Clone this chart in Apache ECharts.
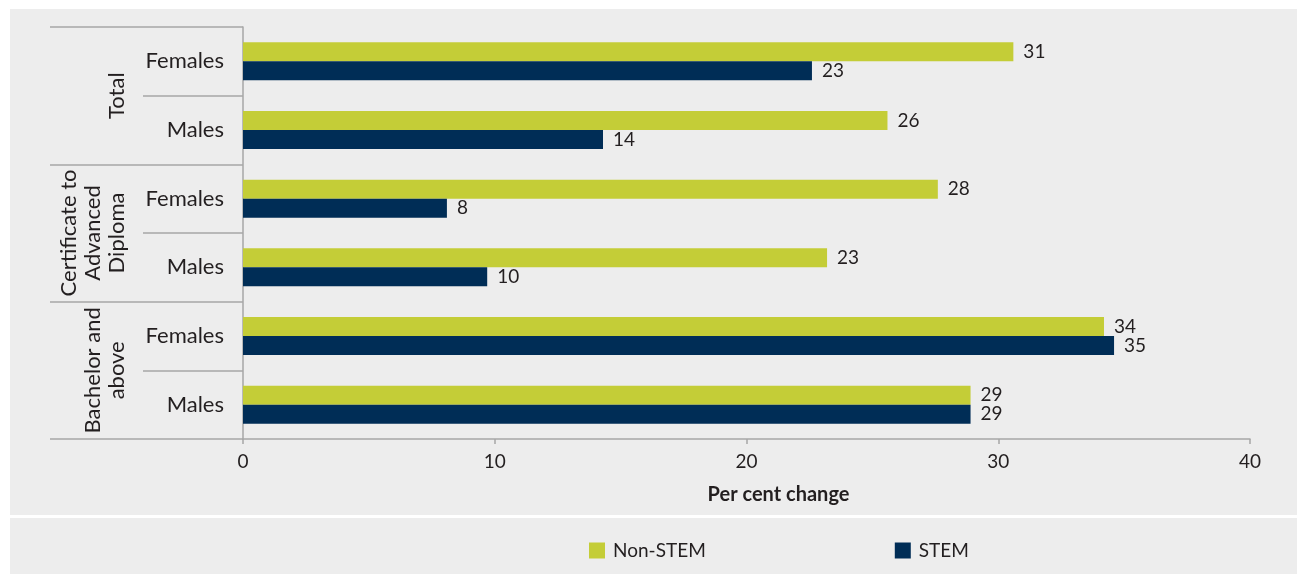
<!DOCTYPE html>
<html>
<head>
<meta charset="utf-8">
<script src="https://cdn.jsdelivr.net/npm/echarts@6/dist/echarts.min.js"></script>
<style>
html,body{margin:0;padding:0;background:#ffffff;}
#chart{width:1297px;height:574px;}
</style>
</head>
<body>
<div id="chart"></div>
<script>
// ---- data ----
var groups = ['Total', 'Certificate to\nAdvanced\nDiploma', 'Bachelor and\nabove'];
var subCategories = ['Females', 'Males', 'Females', 'Males', 'Females', 'Males'];
var nonStem = [30.6, 25.6, 27.6, 23.2, 34.2, 28.9];
var stem = [22.6, 14.3, 8.1, 9.7, 34.6, 28.9];
var seriesNames = ['Non-STEM', 'STEM'];
var xTicks = [0, 10, 20, 30, 40];
var xTitle = 'Per cent change';

var FONT = 'Lato';
var TXT = '#231f20';
var AXIS = '#a6a6a6';
var GREEN = '#c4cd37';
var NAVY = '#002d56';

var chart = echarts.init(document.getElementById('chart'));
var labelOpt = {
  show: true, position: 'right', distance: 10,
  fontFamily: FONT, fontSize: 19, color: TXT,
  formatter: function (p) { return Math.round(p.value); }
};
chart.setOption({
  backgroundColor: '#ffffff',
  animation: false,
  graphic: [
    { type: 'rect', z: -10, silent: true, shape: { x: 10, y: 9, width: 1287, height: 506 }, style: { fill: '#ededed' } },
    { type: 'rect', z: -10, silent: true, shape: { x: 10, y: 518, width: 1287, height: 56 }, style: { fill: '#ededed' } }
  ],
  grid: { left: 243, right: 47, top: 27, bottom: 135 },
  legend: {
    data: seriesNames, left: 584, top: 536, itemWidth: 16, itemHeight: 16, itemGap: 189,
    icon: 'rect',
    textStyle: { fontFamily: FONT, fontSize: 19, color: TXT, padding: [0, 0, 0, 3] }
  },
  xAxis: {
    type: 'value', min: xTicks[0], max: xTicks[xTicks.length - 1], interval: 10,
    axisLine: { show: true, lineStyle: { color: AXIS, width: 1.5 } },
    axisTick: { show: true, length: 5, lineStyle: { color: AXIS, width: 1.5 } },
    splitLine: { show: false },
    axisLabel: { fontFamily: FONT, fontSize: 19, color: TXT, margin: 13 },
    name: xTitle, nameLocation: 'middle', nameGap: 46,
    nameTextStyle: { fontFamily: FONT, fontSize: 20, fontWeight: 'bold', color: TXT, padding: [0, 0, 0, 64] }
  },
  yAxis: [
    {
      type: 'category', data: subCategories, inverse: true, position: 'left',
      axisLine: { show: true, lineStyle: { color: AXIS, width: 1.5 } },
      axisTick: { show: true, length: 100, lineStyle: { color: AXIS, width: 1.5 } },
      axisLabel: { fontFamily: FONT, fontSize: 22, color: TXT, margin: 19, interval: 0 }
    },
    {
      type: 'category', data: groups, inverse: true, position: 'left', offset: 0,
      axisLine: { show: false },
      axisTick: { show: true, length: 193, interval: 0, lineStyle: { color: AXIS, width: 1.5 } },
      axisLabel: { fontFamily: FONT, fontSize: 22, color: TXT, rotate: 90, margin: 114, lineHeight: 24, interval: 0, hideOverlap: false }
    }
  ],
  series: [
    { name: seriesNames[0], type: 'bar', yAxisIndex: 0, data: nonStem, barWidth: 19, barGap: '0%', itemStyle: { color: GREEN }, label: labelOpt },
    { name: seriesNames[1], type: 'bar', yAxisIndex: 0, data: stem, barWidth: 19, barGap: '0%', itemStyle: { color: NAVY }, label: labelOpt }
  ]
});
</script>
</body>
</html>
